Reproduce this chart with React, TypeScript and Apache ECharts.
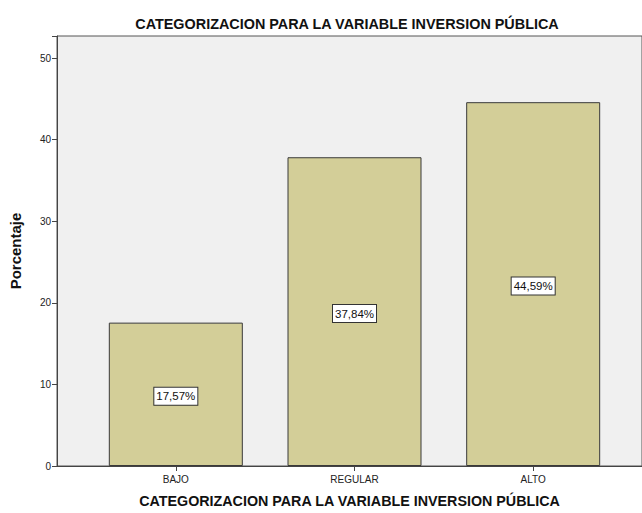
import React, { useEffect, useRef } from "react";
import * as echarts from "echarts";

const categories = ["BAJO", "REGULAR", "ALTO"];
const percentages = [17.57, 37.84, 44.59];
const yTicks = [0, 10, 20, 30, 40, 50];
const chartTitle = "CATEGORIZACION PARA LA VARIABLE INVERSION PÚBLICA";
const xTitle = "CATEGORIZACION PARA LA VARIABLE INVERSION PÚBLICA";
const yTitle = "Porcentaje";

export default function App() {
  const ref = useRef<HTMLDivElement>(null);
  useEffect(() => {
    if (!ref.current) return;
    const chart = echarts.init(ref.current, null, { renderer: "svg" });
    const positions = categories.map((_, i) => i + 1);
    chart.setOption({
      animation: false,
      title: {
        text: chartTitle,
        left: 342,
        top: 12,
        textAlign: "center",
        textStyle: { fontFamily: "Arial, Liberation Sans", fontSize: 14.4, fontWeight: "bold", color: "#111" },
      },
      grid: {
        left: 56,
        top: 36,
        right: 0,
        bottom: 46,
        show: true,
        backgroundColor: "#F0F0F0",
        borderColor: "#555",
        borderWidth: 1,
      },
      xAxis: {
        type: "value",
        min: 0.335,
        max: 3.609,
        name: xTitle,
        nameLocation: "middle",
        nameGap: 28,
        nameTextStyle: { fontFamily: "Arial, Liberation Sans", fontSize: 14.3, fontWeight: "bold", color: "#111" },
        splitLine: { show: false },
        axisLine: { show: true, onZero: false, lineStyle: { color: "#444" } },
        axisTick: { show: true, length: 5, customValues: positions, lineStyle: { color: "#444" } },
        axisLabel: {
          customValues: positions,
          formatter: (v: number) => categories[Math.round(v) - 1] ?? "",
          fontFamily: "Arial, Liberation Sans",
          fontSize: 10,
          color: "#222",
          margin: 8,
        },
      },
      yAxis: {
        type: "value",
        min: 0,
        max: 52.7,
        interval: 10,
        name: yTitle,
        nameLocation: "middle",
        nameGap: 34,
        nameTextStyle: { fontFamily: "Arial, Liberation Sans", fontSize: 15, fontWeight: "bold", color: "#111" },
        splitLine: { show: false },
        axisLine: { show: true, lineStyle: { color: "#444" } },
        axisTick: { show: true, length: 5, lineStyle: { color: "#444" } },
        axisLabel: {
          fontFamily: "Arial, Liberation Sans",
          fontSize: 10,
          color: "#222",
          margin: 6,
          showMaxLabel: true,
          formatter: (v: number) => (yTicks.includes(v) ? String(v) : ""),
        },
      },
      series: [
        {
          type: "bar",
          barWidth: 134,
          data: percentages.map((v, i) => [positions[i], v]),
          itemStyle: { color: "#D3CE98", borderColor: "#3A3A3A", borderWidth: 1 },
          label: {
            show: true,
            position: "inside",
            offset: [0, 2],
            formatter: (p: any) => p.value[1].toFixed(2).replace(".", ",") + "%",
            fontFamily: "Arial, Liberation Sans",
            fontSize: 11.5,
            color: "#111",
            backgroundColor: "#FFFFFF",
            borderColor: "#333",
            borderWidth: 1,
            padding: [3, 2, 2, 2],
          },
        },
      ],
    });
    return () => chart.dispose();
  }, []);
  return <div ref={ref} style={{ width: 642, height: 513, position: "absolute", left: 0, top: 0, background: "#fff" }} />;
}
